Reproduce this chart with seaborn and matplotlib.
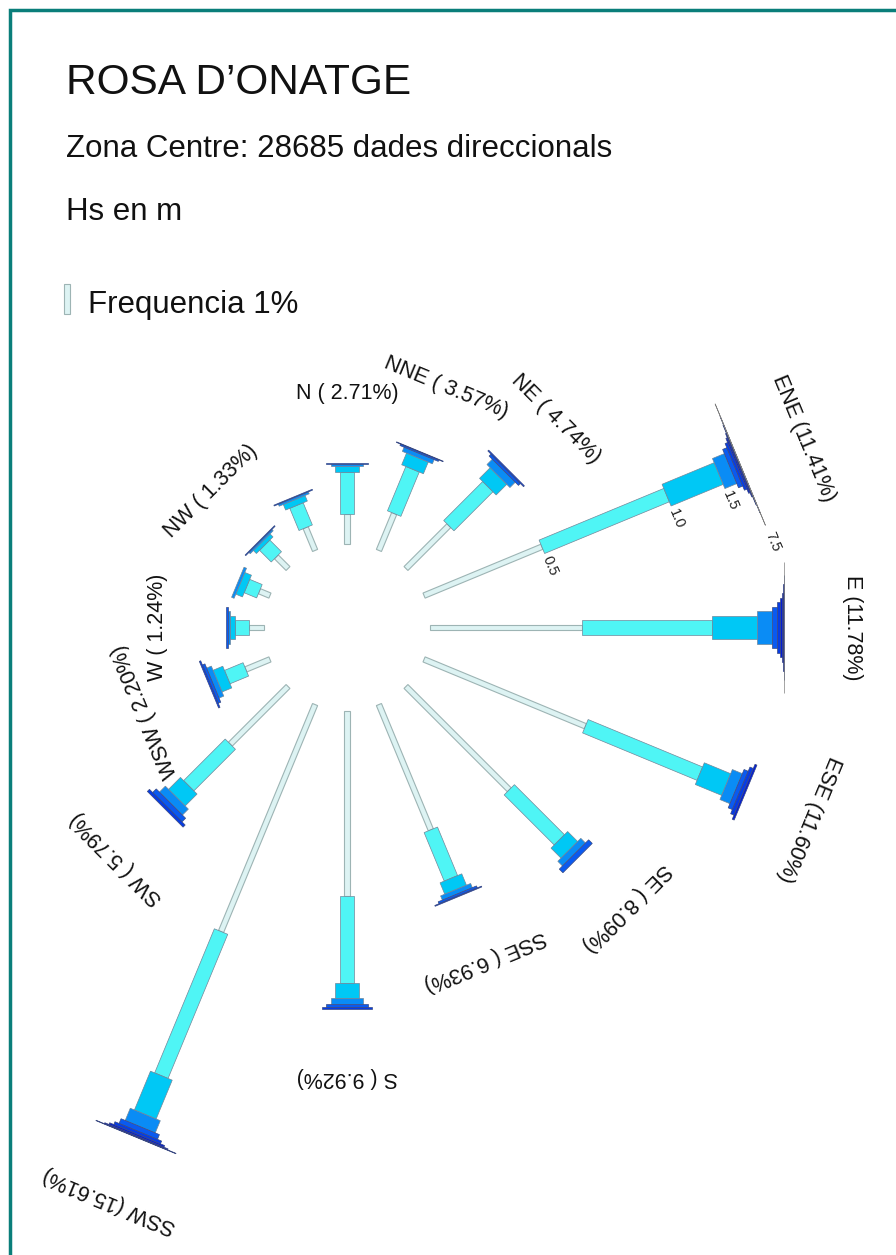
"""Wave rose (rosa d'onatge) for the Zona Centre buoy record."""

import numpy as np
import pandas as pd
import matplotlib

matplotlib.use("Agg")
import matplotlib.pyplot as plt
from matplotlib.patches import Rectangle
import seaborn as sns

# ---- data -----------------------------------------------------------------
directions = ["N", "NNE", "NE", "ENE", "E", "ESE", "SE", "SSE",
              "S", "SSW", "SW", "WSW", "W", "WNW", "NW", "NNW"]
bearings = [0, 22.5, 45, 67.5, 90, 112.5, 135, 157.5,
            180, 202.5, 225, 247.5, 270, 292.5, 315, 337.5]
# percentages printed next to each sector (None = not labelled)
label_pct = [2.71, 3.57, 4.74, 11.41, 11.78, 11.60, 8.09, 6.93,
             9.92, 15.61, 5.79, 2.20, 1.24, None, 1.33, None]

# upper limit of each Hs class (m)
hs_upper = [0.5, 1.0, 1.5, 2.0, 2.5, 3.0, 3.5, 4.0, 5.0, 6.0, 7.5]

# frequency (%) of each Hs class, one list per direction
freq_n = [1.00, 1.40, 0.20, 0.07, 0.04, 0, 0, 0, 0, 0, 0]
freq_nne = [1.33, 1.60, 0.42, 0.15, 0.05, 0.02, 0, 0, 0, 0, 0]
freq_ne = [2.02, 1.84, 0.50, 0.25, 0.09, 0.04, 0, 0, 0, 0, 0]
freq_ene = [4.25, 4.50, 1.88, 0.43, 0.15, 0.09, 0.05, 0.03, 0.02, 0.008, 0.002]
freq_e = [5.06, 4.33, 1.48, 0.52, 0.17, 0.10, 0.06, 0.03, 0.02, 0.007, 0.003]
freq_ese = [5.82, 4.13, 0.95, 0.36, 0.15, 0.12, 0.07, 0, 0, 0, 0]
freq_se = [4.87, 2.36, 0.47, 0.22, 0.17, 0, 0, 0, 0, 0, 0]
freq_sse = [4.52, 1.75, 0.41, 0.15, 0.07, 0.03, 0, 0, 0, 0, 0]
freq_s = [6.17, 2.91, 0.48, 0.22, 0.10, 0.04, 0, 0, 0, 0, 0]
freq_ssw = [8.19, 5.20, 1.40, 0.44, 0.17, 0.10, 0.06, 0.035, 0.015, 0, 0]
freq_sw = [2.72, 1.96, 0.56, 0.28, 0.17, 0.10, 0, 0, 0, 0, 0]
freq_wsw = [0.87, 0.67, 0.35, 0.17, 0.09, 0.05, 0, 0, 0, 0, 0]
freq_w = [0.50, 0.47, 0.14, 0.08, 0.05, 0, 0, 0, 0, 0, 0]
freq_wnw = [0.38, 0.45, 0.24, 0.09, 0, 0, 0, 0, 0, 0, 0]
freq_nw = [0.55, 0.55, 0.14, 0.06, 0.03, 0, 0, 0, 0, 0, 0]
freq_nnw = [0.82, 0.80, 0.20, 0.07, 0.03, 0, 0, 0, 0, 0, 0]

freq = pd.DataFrame(
    [freq_n, freq_nne, freq_ne, freq_ene, freq_e, freq_ese, freq_se, freq_sse,
     freq_s, freq_ssw, freq_sw, freq_wsw, freq_w, freq_wnw, freq_nw, freq_nnw],
    index=directions,
    columns=hs_upper,
)

# ---- style -----------------------------------------------------------------
sns.set_theme(style="white")
plt.rcParams["font.family"] = ["Liberation Sans", "DejaVu Sans"]

W_PX, H_PX = 896, 1255
CX, CY = 347, 627.5          # rose centre in pixels
PX_PER_PCT = 30.0            # bar length of 1 % of the records
INNER = 2.78                 # empty circle in the middle (% units)
LABEL_GAP = 2.3              # gap between sector end and its label


def seg_width(hs):
    """Bar width grows with the wave height of the class (% units)."""
    return (18.0 * hs - 3.5) / PX_PER_PCT


class_colors = ["#DDF3F3", "#4FF5F5", "#00C8F5", "#0A8CF5"] + [
    matplotlib.colors.to_hex(c)
    for c in sns.blend_palette(["#0A5AF0", "#0000C8", "#00005A"], 7)
]
edge_colors = ["#9DB4B4"] + ["#71879A"] * 3 + ["#3A4A80"] * 6 + ["#808080"]

fig = plt.figure(figsize=(W_PX / 100, H_PX / 100), dpi=100)
ax = fig.add_axes([0, 0, 1, 1])
ax.set_xlim(-CX / PX_PER_PCT, (W_PX - CX) / PX_PER_PCT)
ax.set_ylim(-(H_PX - CY) / PX_PER_PCT, CY / PX_PER_PCT)
ax.axis("off")

for name, bearing, pct in zip(directions, bearings, label_pct):
    theta = np.deg2rad(90 - bearing)
    u = np.array([np.cos(theta), np.sin(theta)])
    p = np.array([np.sin(theta), -np.cos(theta)])   # clockwise side
    r = INNER
    bounds = []
    for k, hs in enumerate(hs_upper):
        f = freq.loc[name, hs]
        bounds.append(r + f)
        if f <= 0:
            continue
        h = seg_width(hs) / 2
        corners = [r * u + h * p, (r + f) * u + h * p,
                   (r + f) * u - h * p, r * u - h * p]
        xs, ys = zip(*corners)
        ax.fill(xs, ys, facecolor=class_colors[k], edgecolor=edge_colors[k],
                linewidth=0.8 if k == 0 else 0.5, zorder=2 + k)
        r += f

    if pct is not None:
        pos = (r + LABEL_GAP) * u
        ax.text(pos[0], pos[1], f"{name} ({pct:5.2f}%)", fontsize=15.5,
                rotation=np.rad2deg(theta) - 90, rotation_mode="anchor",
                ha="center", va="center", color="#111111")

    # Hs scale printed along one sector
    if name == "ENE":
        for k in [0, 1, 2, len(hs_upper) - 1]:
            off = seg_width(hs_upper[k]) / 2 + 8 / PX_PER_PCT
            pos = bounds[k] * u + off * p
            ax.text(pos[0], pos[1], f"{hs_upper[k]:.1f}", fontsize=10.5,
                    rotation=np.rad2deg(theta) - 90, rotation_mode="anchor",
                    ha="left", va="center", color="#222222")

# frequency key: a pale bar 1 % long
key_x, key_y = (64 - CX) / PX_PER_PCT, (CY - 314) / PX_PER_PCT
ax.add_patch(Rectangle((key_x, key_y), seg_width(hs_upper[0]), 1.0,
                       facecolor=class_colors[0], edgecolor=edge_colors[0],
                       linewidth=0.8))

# ---- header text -------------------------------------------------------------
fig.text(66 / W_PX, 1 - 94 / H_PX, "ROSA D\u2019ONATGE", fontsize=30.5,
         va="baseline", color="#111111")
fig.text(66 / W_PX, 1 - 157 / H_PX, "Zona Centre: 28685 dades direccionals",
         fontsize=22.5, va="baseline", color="#111111")
fig.text(66 / W_PX, 1 - 220 / H_PX, "Hs en m", fontsize=22.5,
         va="baseline", color="#111111")
fig.text(88 / W_PX, 1 - 313 / H_PX, "Frequencia 1%", fontsize=22.5,
         va="baseline", color="#111111")

# teal frame (cut at right and bottom in the original export)
fig.add_artist(Rectangle((9.5 / W_PX, -0.1), 1.2, 1.1 - 9.5 / H_PX,
                         transform=fig.transFigure, fill=False,
                         edgecolor="#0A7E7A", linewidth=2.5))

fig.savefig("out.png", dpi=100)
plt.close(fig)
